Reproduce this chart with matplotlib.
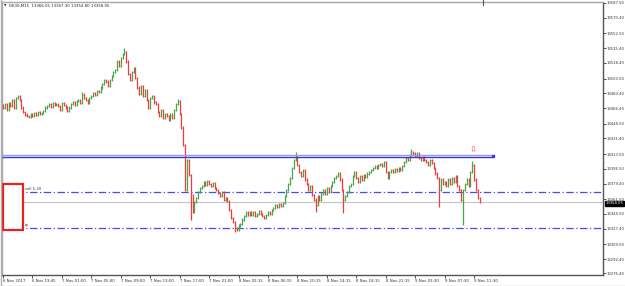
import matplotlib
matplotlib.use('Agg')
import matplotlib.pyplot as plt
from matplotlib.patches import Rectangle

# ---------------- data ----------------
closes = [
    13467, 13471, 13464, 13472, 13469, 13476, 13467, 13478, 13480, 13476,
    13467, 13462, 13459, 13457, 13456, 13460, 13457,
    13461, 13459, 13462, 13460, 13461, 13463,
    13467, 13469, 13471, 13468, 13472, 13470, 13471,
    13469, 13464, 13472, 13470, 13467, 13463, 13467,
    13471, 13473, 13470, 13475, 13476, 13472,
    13482, 13478, 13476, 13473, 13478,
    13480, 13484, 13482, 13486, 13485, 13490,
    13494, 13499, 13497, 13492, 13499,
    13503, 13508, 13510, 13520, 13515, 13524, 13529, 13531,
    13520, 13506, 13499,
    13508, 13513, 13501,
    13490, 13483,
    13492, 13480, 13487,
    13476, 13467, 13478,
    13480, 13473, 13471,
    13462, 13457,
    13464, 13455, 13460,
    13457, 13453, 13459, 13455,
    13464, 13471, 13475,
    13460, 13444,
    13424, 13372,
    13407, 13389,
    13366, 13347,
    13358, 13363,
    13370, 13374, 13377, 13381, 13378, 13382,
    13379, 13377, 13380, 13374, 13372,
    13369, 13365, 13370, 13361, 13363, 13359,
    13349, 13340,
    13335, 13328, 13326, 13331, 13333, 13338,
    13342, 13346, 13343,
    13346, 13343, 13347, 13342, 13344, 13348, 13344,
    13342, 13340, 13343, 13346, 13344,
    13349, 13351, 13355, 13353, 13356, 13354, 13357,
    13365, 13372, 13379, 13386,
    13397, 13407, 13410,
    13401, 13393,
    13388, 13395, 13384, 13379,
    13372, 13377, 13366,
    13361, 13355, 13365, 13361,
    13368, 13372, 13368, 13374, 13370, 13377,
    13381, 13386, 13388, 13391, 13384,
    13372, 13361, 13365,
    13370, 13377, 13379,
    13388, 13393,
    13386, 13381, 13388, 13384, 13389, 13387,
    13391, 13393,
    13395, 13397, 13400, 13397, 13401, 13402, 13400, 13404,
    13393, 13386, 13393,
    13395, 13393, 13396, 13394, 13397, 13395, 13400,
    13404, 13409, 13407, 13412, 13416, 13414,
    13411, 13414, 13409, 13407, 13410,
    13407, 13404, 13401, 13407, 13403,
    13397, 13391, 13386,
    13372, 13384, 13379,
    13381, 13377, 13384, 13379, 13386, 13381,
    13388, 13377, 13372,
    13361, 13372, 13379,
    13384, 13377, 13393,
    13401,
    13384, 13372,
    13363, 13358.05,
]
first_open = 13470
spike_low = {102: 13338, 126: 13324, 237: 13353, 250: 13332, 185: 13346, 170: 13347}
spike_high = {66: 13536, 159: 13416, 222: 13419, 255: 13405, 95: 13477, 43: 13485, 8: 13482}

price_ticks = [13587.50, 13570.40, 13552.50, 13535.40, 13518.40, 13500.50, 13483.40,
               13466.40, 13448.50, 13431.40, 13413.50, 13396.50, 13379.40, 13361.50,
               13344.50, 13327.40, 13309.50, 13292.40, 13276.40]
time_labels = ["6 Nov 2017", "6 Nov 19:45", "7 Nov 01:00", "7 Nov 05:00", "7 Nov 09:00",
               "7 Nov 13:00", "7 Nov 17:00", "7 Nov 21:00", "8 Nov 02:15", "8 Nov 06:15",
               "8 Nov 10:15", "8 Nov 14:15", "8 Nov 18:15", "8 Nov 22:15", "9 Nov 03:30",
               "9 Nov 07:30", "9 Nov 11:30"]
bars_per_label = 16

level_a = 13412.4
level_b = 13410.1
order_open = 13369.7
order_tp = 13328.3
bid = 13358.05
header = "DE30,M15  13366.05 13367.30 13354.80 13358.05"

# ---------------- figure ----------------
W, H = 625, 286
fig = plt.figure(figsize=(W / 100, H / 100), dpi=100)
fig.patch.set_facecolor('white')
ax = fig.add_axes([2 / W, (H - 275) / H, (603 - 2) / W, (275 - 2) / H])
ax.set_facecolor('white')

n = len(closes)
opens = [first_open] + closes[:-1]
pad = 1.3
highs, lows = [], []
for i, (o, c) in enumerate(zip(opens, closes)):
    highs.append(spike_high.get(i, max(o, c) + pad))
    lows.append(spike_low.get(i, min(o, c) - pad))

xs = list(range(n))
up_col, dn_col = '#46a546', '#f23c3c'
cols = [up_col if c >= o else dn_col for o, c in zip(opens, closes)]
ax.vlines(xs, lows, highs, colors=cols, linewidth=0.9, zorder=3)
ax.hlines(opens, [x - 0.4 for x in xs], xs, colors=cols, linewidth=0.5, alpha=0.7, zorder=3)
ax.hlines(closes, xs, [x + 0.4 for x in xs], colors=cols, linewidth=0.5, alpha=0.7, zorder=3)

x_left = (2 - 3) / 1.84
x_right = (603 - 3) / 1.84
ax.set_xlim(x_left, x_right)
ax.set_ylim(13274.1, 13588.65)

# horizontal levels
x_end_lvl = (493 - 3) / 1.84
ax.hlines(level_a, x_left, x_end_lvl, colors='#9a9af0', linewidth=1.0, zorder=4)
ax.hlines(level_b, x_left, x_end_lvl, colors='#3a3ac8', linewidth=1.0, zorder=4)
ax.plot([x_end_lvl], [level_a - 1.1], marker='s', ms=1.5, color='#3a3ae0', zorder=5)
ax.axhline(order_open, color='#4a4af0', linewidth=0.9, linestyle=(0, (6, 2, 1, 2)), zorder=2)
ax.axhline(order_tp, color='#4a4af0', linewidth=0.9, linestyle=(0, (6, 2, 1, 2)), zorder=2)
ax.axhline(bid, color='#c8c8c8', linewidth=0.9, zorder=1)

# red box on the left
ax.add_patch(Rectangle((x_left + 0.6, 13325.5), 10.6, 54.0, facecolor='white',
                       edgecolor='#e8201e', linewidth=1.6, zorder=6))
ax.text(11.8, order_open + 1.0, "sell 5.20", fontsize=2.7, color='#333333',
        va='bottom', ha='left', zorder=7)
ax.text(11.8, order_tp + 1.0, "tp", fontsize=2.7, color='#333333',
        va='bottom', ha='left', zorder=7)

# red arrow above last bars
ax.text((473 - 3) / 1.84, 13418, "\u21e9", fontsize=6, color='#ff4a20',
        ha='center', va='center', zorder=7)

# axes styling
for side in ['top', 'left']:
    ax.spines[side].set_color('#a8a8a8')
    ax.spines[side].set_linewidth(1.0)
for side in ['right', 'bottom']:
    ax.spines[side].set_color('#555555')
    ax.spines[side].set_linewidth(1.0)

ax.yaxis.tick_right()
ax.set_yticks(price_ticks)
ax.set_yticklabels([f"{v:.2f}" for v in price_ticks])
ax.tick_params(axis='y', which='both', direction='out', length=2, width=0.6,
               colors='#333333', labelsize=2.7, pad=0.8)
ax.tick_params(axis='y', left=False)

tick_pos = [i * bars_per_label for i in range(len(time_labels))]
ax.set_xticks(tick_pos)
ax.set_xticklabels(time_labels)
ax.tick_params(axis='x', direction='out', length=2, width=0.6, colors='#333333',
               labelsize=2.8, pad=1)
for lbl in ax.get_xticklabels():
    lbl.set_horizontalalignment('left')

# current price box
ax.text(1.004, bid - 1.5, "13358.05", transform=ax.get_yaxis_transform(), fontsize=2.7,
        color='white', ha='left', va='center', zorder=10,
        bbox=dict(boxstyle='square,pad=0.15', facecolor='black', edgecolor='black'))

# header
fig.text(4 / W, 1 - 6 / H, "\u25bc", fontsize=2.3, color='#222222', va='center', ha='left')
fig.text(9 / W, 1 - 6 / H, header, fontsize=2.8, color='#222222', va='center', ha='left')

# outer frame
fig.add_artist(plt.Line2D([0.5 / W, 0.5 / W], [0, 1], color='#b0b0b0', linewidth=1.0))
fig.add_artist(plt.Line2D([0, 1], [0.5 / H, 0.5 / H], color='#d0d0d0', linewidth=1.0))
fig.add_artist(plt.Line2D([482.5 / W, 482.5 / W], [1 - 5 / H, 1], color='#555555', linewidth=0.8))

fig.savefig('out.png', dpi=100, facecolor='white')
